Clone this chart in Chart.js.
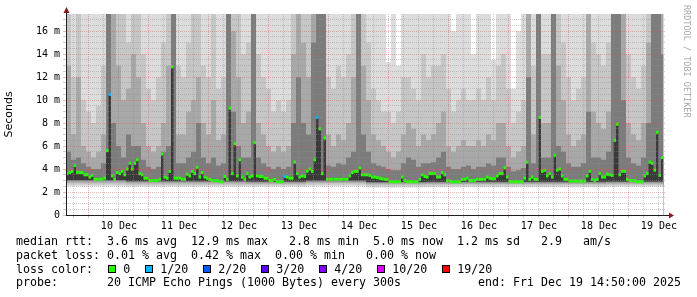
<!DOCTYPE html>
<html lang="en">
<head>
<meta charset="UTF-8">
<title>Smokeping latency - last 10 days</title>
<script src="https://cdn.jsdelivr.net/npm/chart.js@4.4.1/dist/chart.umd.min.js"></script>
<style>
    body { margin: 0; background: #fff; }
    #wrap { position: relative; width: 697px; height: 297px; overflow: hidden; }
    #wrap canvas { position: absolute; left: 0; top: 0; }
    .legend {
        position: absolute;
        left: 16px;
        font: 11.63px "DejaVu Sans Mono", monospace;
        line-height: 14px;
        white-space: pre;
        color: #000;
    }
    .sq {
        position: absolute;
        top: 265px;
        width: 6px;
        height: 6px;
        border: 1px solid #000;
    }
    .mark {
        position: absolute;
        left: 691px;
        top: 5px;
        transform-origin: 0 0;
        transform: rotate(90deg);
        font: 8.5px "DejaVu Sans Mono", monospace;
        line-height: 9px;
        color: #a8a8a8;
        white-space: pre;
    }
</style>
</head>
<body>
<div id="wrap">
    <canvas id="smoke" width="697" height="297"></canvas>
    <div class="legend" style="top:234px">median rtt:  3.6 ms avg  12.9 ms max   2.8 ms min  5.0 ms now  1.2 ms sd   2.9   am/s</div>
    <div class="legend" style="top:248px">packet loss: 0.01 % avg  0.42 % max  0.00 % min   0.00 % now</div>
    <div class="legend" style="top:262px">loss color:</div>
    <div id="lossLegend"></div>
    <div class="legend" style="top:275px">probe:       20 ICMP Echo Pings (1000 Bytes) every 300s</div>
    <div class="legend" style="top:275px; left:478px">end: Fri Dec 19 14:50:00 2025</div>
    <div class="mark">RRDTOOL / TOBI OETIKER</div>
</div>

<script>
    // hours since 9 Dec 00:00; the graph covers 10 days ending Fri Dec 19 14:50
    const startHour = 14 + 50 / 60;
    const endHour = startHour + 240;
    const dataEnd = startHour + 239;

    const dayLabels = ['10 Dec', '11 Dec', '12 Dec', '13 Dec', '14 Dec', '15 Dec', '16 Dec', '17 Dec', '18 Dec', '19 Dec'];
    const yTickLabels = ['0', '2 m', '4 m', '6 m', '8 m', '10 m', '12 m', '14 m', '16 m'];

    // median rtt in ms, one value per hour
    const median = [
        3.6, 3.7, 3.8, 4.3, 3.7, 3.7, 3.7, 3.5, 3.5, 3.3,
        3.45, 3.1, 3.1, 3.1, 3.1, 3.2, 5.6, 10.5, 3.4, 3.1,
        3.7, 3.6, 3.8, 3.5, 4.0, 4.5, 4.0, 4.5, 4.8, 3.6,
        3.5, 3.2, 3.2, 3.0, 3.0, 3.0, 3.0, 3.1, 5.3, 3.3,
        3.2, 3.8, 12.9, 3.2, 3.2, 3.2, 3.1, 3.1, 3.55, 3.4,
        3.8, 3.6, 4.15, 3.3, 3.7, 3.3, 3.2, 3.1, 3.0, 3.0,
        3.0, 2.9, 2.9, 3.35, 3.1, 9.3, 3.6, 6.2, 3.4, 4.8,
        3.3, 3.1, 3.6, 3.3, 3.4, 6.3, 3.4, 3.35, 3.35, 3.2,
        3.2, 3.0, 3.0, 3.1, 2.9, 2.9, 2.9, 3.35, 3.3, 3.2,
        3.2, 4.6, 3.6, 3.3, 3.4, 3.35, 3.8, 4.0, 3.8, 4.8,
        8.5, 7.5, 3.6, 6.7, 3.1, 3.1, 3.1, 3.1, 3.1, 3.1,
        3.1, 3.1, 3.1, 3.4, 3.7, 3.8, 3.8, 4.1, 3.5, 3.5,
        3.5, 3.45, 3.3, 3.3, 3.25, 3.2, 3.15, 3.1, 3.1, 2.9,
        2.9, 2.9, 2.9, 2.9, 3.3, 3.0, 2.9, 2.9, 2.9, 2.9,
        2.9, 3.1, 3.5, 3.35, 3.3, 3.6, 3.6, 3.6, 3.3, 3.3,
        3.7, 3.5, 3.0, 2.95, 2.9, 2.9, 2.9, 2.9, 3.1, 3.1,
        3.2, 3.0, 3.0, 3.0, 3.1, 3.1, 3.1, 3.1, 3.3, 3.2,
        3.15, 3.15, 3.4, 3.6, 3.6, 4.1, 3.3, 2.9, 2.9, 2.9,
        2.9, 2.9, 2.9, 3.2, 4.6, 3.1, 3.3, 3.1, 3.1, 8.5,
        3.8, 3.9, 3.4, 3.6, 3.3, 5.2, 3.9, 4.0, 3.4, 3.1,
        3.1, 2.95, 2.95, 2.95, 2.95, 2.95, 2.95, 2.95, 3.4, 3.8,
        3.1, 3.0, 3.1, 3.6, 3.3, 3.3, 3.55, 3.5, 3.45, 6.5,
        7.9, 3.5, 3.8, 3.8, 3.1, 3.0, 3.0, 3.0, 2.9, 2.9,
        2.9, 3.4, 3.6, 4.6, 4.5, 3.9, 7.2, 3.45, 5.0
    ];

    // hours (index into median) where pings were lost, and how many of 20
    const lossHour = [17, 87, 100];
    const lossPings = [1, 1, 1];

    // smoke: upper edges of the grey bands, one value per 2 hours (ms)
    const smokeMax = [
        17.5, 17.5, 17.5, 17.5, 17.5, 17.5, 17.5, 17.5, 17.5, 17.5,
        17.5, 17.5, 17.5, 17.5, 17.5, 17.5, 17.5, 17.5, 17.5, 17.5,
        17.5, 17.5, 17.5, 17.5, 17.5, 17.5, 17.5, 17.5, 17.5, 17.5,
        17.5, 17.5, 17.5, 17.5, 17.5, 17.5, 17.5, 17.5, 17.5, 17.5,
        17.5, 17.5, 17.5, 17.5, 17.5, 17.5, 17.5, 17.5, 17.5, 17.5,
        17.5, 17.5, 17.5, 17.5, 17.5, 17.5, 17.5, 17.5, 17.5, 17.5,
        17.5, 17.5, 17.5, 17.5, 13.3, 17.5, 13.0, 17.5, 17.5, 17.5,
        17.5, 17.5, 17.5, 17.5, 17.5, 17.5, 17.5, 16.0, 17.5, 17.5,
        17.5, 14.0, 17.5, 17.5, 17.5, 13.5, 17.5, 17.5, 17.5, 11.0,
        16.0, 17.5, 17.5, 17.5, 17.5, 17.5, 17.5, 17.5, 17.5, 17.5,
        17.5, 17.5, 17.5, 17.5, 17.5, 17.5, 17.5, 17.5, 17.5, 17.5,
        17.5, 17.5, 17.5, 17.5, 17.5, 17.5, 17.5, 17.5, 17.5, 17.5
    ];
    const smokeHigh = [
        17.5, 12, 17.5, 10, 9, 8, 9.5, 13, 17.5, 17.5,
        17.5, 17.5, 15, 17.5, 17.5, 14, 11, 10, 12, 15,
        17.5, 17.5, 13, 12, 15, 17.5, 17.5, 13, 12, 17.5,
        11, 12, 17.5, 17.5, 17.5, 14, 15, 17.5, 14, 12,
        11, 9, 10, 9, 10, 17.5, 17.5, 17.5, 17.5, 17.5,
        17.5, 17.5, 12, 11, 13, 12, 14, 17.5, 17.5, 17.5,
        15, 11, 10, 9, 9, 8, 9, 12, 12, 11,
        10, 14, 12, 13, 13, 14, 11, 9, 10, 11,
        10, 10, 11, 10, 12, 10, 13, 14, 11, 8,
        9, 10, 17.5, 13, 17.5, 14, 14, 17.5, 17.5, 15,
        12, 10, 11, 12, 17.5, 15, 14, 13, 15, 17.5,
        17.5, 17.5, 14, 12, 11, 13, 17.5, 17.5, 17.5, 17.5
    ];
    const smokeMid = [
        13, 7, 12, 6, 5.5, 5, 5.5, 7, 17.5, 17.5,
        13, 10, 11, 14, 12, 8, 6, 5.5, 6, 8,
        13, 17.5, 7, 7, 9, 10, 12, 8, 7, 10,
        6.5, 7, 17.5, 16, 12, 8, 9, 17.5, 8, 7,
        6, 5.5, 6, 5.5, 6, 14, 17.5, 15, 12, 17.5,
        17.5, 17.5, 7, 6, 7, 6.5, 8, 12, 17.5, 13,
        10, 7, 6.5, 6, 5.5, 5, 5.5, 7, 8, 7.5,
        6, 7, 6.5, 7, 8, 9, 6, 5.5, 6, 6.5,
        6, 6, 6.5, 6, 7, 6.5, 8, 8, 6, 5,
        5.5, 6, 17.5, 7, 17.5, 8, 8, 17.5, 13, 10,
        7, 6, 6.5, 7, 17.5, 9, 8, 7.5, 9, 17.5,
        17.5, 17.5, 8, 7, 6.5, 8, 15, 17.5, 17.5, 17.5
    ];
    const smokeLow = [
        5.5, 4.8, 5, 4.5, 4.2, 4, 4, 4.5, 17.5, 8,
        6, 5, 7, 6, 6, 4.8, 4.2, 4, 4.2, 5.5,
        6, 17.5, 4.5, 4.5, 5, 5.5, 8, 5, 4.5, 5,
        4.3, 4.5, 17.5, 9, 6, 5, 5, 17.5, 5, 4.5,
        4.2, 4, 4.2, 4, 4.2, 8, 12, 8, 7, 15,
        17.5, 17.5, 4.3, 4.2, 4.5, 4.4, 5, 5.5, 17.5, 7,
        5.5, 4.5, 4.3, 4.2, 4, 3.9, 3.9, 4.5, 5, 4.8,
        4.2, 4.5, 4.5, 4.6, 5, 5.5, 4.2, 4, 4, 4.2,
        4.3, 4, 4.2, 4.2, 4.5, 4.3, 5, 5, 4.2, 3.8,
        3.9, 4.1, 12, 4.5, 17.5, 5, 5, 17.5, 6, 5.5,
        4.5, 4.2, 4.2, 4.5, 9, 5, 5, 4.8, 5.5, 17.5,
        17.5, 10, 5, 4.5, 4.3, 5, 8, 17.5, 17.5, 14
    ];

    // smoke: lower edges of the grey bands, one value per day (ms)
    const floorA = [2.5, 2.45, 2.45, 2.45, 2.5, 2.4, 2.42, 2.42, 2.42, 2.45];
    const floorB = [2.65, 2.6, 2.6, 2.6, 2.65, 2.55, 2.57, 2.57, 2.57, 2.6];
    const floorC = [2.8, 2.75, 2.75, 2.72, 2.8, 2.68, 2.7, 2.7, 2.7, 2.72];
    const floorD = [2.95, 2.88, 2.88, 2.85, 2.92, 2.8, 2.82, 2.82, 2.82, 2.85];
    const floorCore = [3.05, 2.95, 2.95, 2.92, 3.0, 2.88, 2.9, 2.9, 2.9, 2.92];

    const lossLabels = ['0', '1/20', '2/20', '3/20', '4/20', '10/20', '19/20'];
    const lossSteps = [0, 1, 2, 3, 4, 10, 19];
    const lossColors = ['#26ff00', '#00b8ff', '#0059ff', '#5e00ff', '#7e00ff', '#dd00ff', '#ff0000'];

    const grey = ['#dcdcdc', '#c6c6c6', '#a8a8a8', '#7c7c7c', '#3a3a3a'];
    const minorGrid = 'rgba(143,143,143,0.45)';
    const majorGrid = 'rgba(222,79,79,0.42)';

    // loss colour legend
    const lossBox = document.getElementById('lossLegend');
    let lx = 108.3;
    lossLabels.forEach((txt, i) => {
        const sq = document.createElement('div');
        sq.className = 'sq';
        sq.style.left = lx + 'px';
        sq.style.background = lossColors[i];
        lossBox.appendChild(sq);
        const lab = document.createElement('div');
        lab.className = 'legend';
        lab.style.top = '262px';
        lab.style.left = (lx + 15) + 'px';
        lab.textContent = txt;
        lossBox.appendChild(lab);
        lx += 15 + txt.length * 7 + 15;
    });

    function stepPoints(times, values) {
        const pts = values.map((v, i) => ({ x: times[i], y: v }));
        pts.push({ x: dataEnd, y: values[values.length - 1] });
        return pts;
    }

    const hourTimes = median.map((_, i) => startHour + i);
    const twoHourTimes = smokeMax.map((_, j) => startHour + 2 * j);
    const dayTimes = floorA.map((_, k) => startHour + 24 * k);

    // every band is filled down to zero; later ones paint over earlier ones
    const layers = [
        [twoHourTimes, smokeMax, grey[0]],
        [twoHourTimes, smokeHigh, grey[1]],
        [twoHourTimes, smokeMid, grey[2]],
        [twoHourTimes, smokeLow, grey[3]],
        [hourTimes, median, grey[4]],
        [dayTimes, floorCore, grey[3]],
        [dayTimes, floorD, grey[2]],
        [dayTimes, floorC, grey[1]],
        [dayTimes, floorB, grey[0]],
        [dayTimes, floorA, '#ffffff']
    ];

    const datasets = layers.map((l, i) => ({
        type: 'line',
        data: stepPoints(l[0], l[1]),
        stepped: true,
        fill: 'origin',
        backgroundColor: l[2],
        borderWidth: 0,
        pointRadius: 0,
        order: 100 - i
    }));

    const medianColors = median.map((_, i) => {
        const k = lossHour.indexOf(i);
        const lost = k < 0 ? 0 : lossPings[k];
        let c = lossColors[0];
        lossSteps.forEach((s, n) => { if (lost >= s) c = lossColors[n]; });
        return c;
    });

    datasets.push({
        type: 'line',
        data: median.map((v, i) => ({ x: hourTimes[i] + 0.5, y: v })),
        showLine: false,
        pointStyle: 'line',
        pointRadius: 1.25,
        pointBorderWidth: 3,
        pointBorderColor: medianColors,
        order: 0
    });

    const axisArrows = {
        id: 'axisArrows',
        afterDraw(chart) {
            const { ctx, chartArea: a } = chart;
            ctx.save();
            ctx.strokeStyle = '#1f1f1f';
            ctx.lineWidth = 1;
            ctx.beginPath();
            ctx.moveTo(a.left + 0.5, a.bottom + 0.5);
            ctx.lineTo(a.left + 0.5, a.top - 1);
            ctx.moveTo(a.left, a.bottom + 0.5);
            ctx.lineTo(a.right + 3, a.bottom + 0.5);
            ctx.stroke();
            ctx.fillStyle = '#801f1f';
            ctx.beginPath();
            ctx.moveTo(a.left + 0.5, a.top - 7);
            ctx.lineTo(a.left - 2.5, a.top - 1);
            ctx.lineTo(a.left + 3.5, a.top - 1);
            ctx.closePath();
            ctx.fill();
            ctx.beginPath();
            ctx.moveTo(a.right + 8, a.bottom + 0.5);
            ctx.lineTo(a.right + 3, a.bottom - 2.5);
            ctx.lineTo(a.right + 3, a.bottom + 3.5);
            ctx.closePath();
            ctx.fill();
            ctx.restore();
        }
    };

    new Chart(document.getElementById('smoke'), {
        type: 'line',
        data: { datasets: datasets },
        options: {
            responsive: false,
            devicePixelRatio: 1,
            animation: false,
            layout: { autoPadding: false, padding: { left: 0, right: 31, top: 14, bottom: 0 } },
            plugins: { legend: { display: false }, tooltip: { enabled: false } },
            scales: {
                x: {
                    type: 'linear',
                    min: startHour,
                    max: endHour,
                    afterBuildTicks: s => {
                        const t = [];
                        for (let v = 18; v < endHour; v += 6) t.push({ value: v });
                        s.ticks = t;
                    },
                    afterFit: s => { s.height = 82; },
                    grid: {
                        z: 1,
                        color: c => (c.tick && c.tick.value % 24 === 0) ? majorGrid : minorGrid,
                        tickLength: 3
                    },
                    border: { display: false, dash: [1, 1] },
                    ticks: {
                        autoSkip: false,
                        maxRotation: 0,
                        padding: 2,
                        color: '#000',
                        font: { family: 'DejaVu Sans Mono', size: 10 },
                        callback: v => v % 24 === 12 ? dayLabels[(v - 36) / 24] : ''
                    }
                },
                y: {
                    min: 0,
                    max: 17.5,
                    afterBuildTicks: s => {
                        const t = [];
                        for (let v = 0; v <= 17; v += 0.5) t.push({ value: v });
                        s.ticks = t;
                    },
                    afterFit: s => { s.width = 66; },
                    grid: {
                        z: 1,
                        color: c => (c.tick && c.tick.value % 2 === 0) ? majorGrid : minorGrid,
                        tickLength: 3
                    },
                    border: { display: false, dash: [1, 1] },
                    ticks: {
                        autoSkip: false,
                        padding: 3,
                        color: '#000',
                        font: { family: 'DejaVu Sans Mono', size: 10 },
                        callback: v => v % 2 === 0 ? yTickLabels[v / 2] : ''
                    },
                    title: {
                        display: true,
                        text: 'Seconds',
                        color: '#000',
                        font: { family: 'DejaVu Sans', size: 11 },
                        padding: { top: 3, bottom: 0 }
                    }
                }
            }
        },
        plugins: [axisArrows]
    });
</script>
</body>
</html>
